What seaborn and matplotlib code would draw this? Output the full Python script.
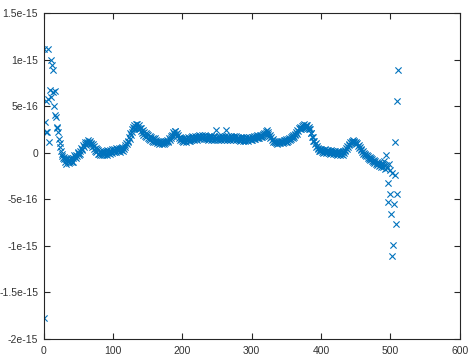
import numpy as np
import pandas as pd
import matplotlib
matplotlib.use("Agg")
import matplotlib.pyplot as plt
import seaborn as sns
from matplotlib.ticker import FuncFormatter

# values in units of 1e-17
head_vals = [-178, 111, 33, 22, 56, 22, 111, 58, 12, 67,
             60, 100, 94, 89, 65, 50, 66, 40, 38, 28,
             26, 22, 15, 10, 6, 2, -1, -4, -6, -7]

body_vals = [
    -5, -10, -7, -12, -6, -9, -11, -7, -10, -7,
    -6, -10, -6, -10, -3, -5, -6, -2, -4, 0,
    1, -2, 2, -1, 5, 4, 3, 8, 6, 9,
    11, 8, 12, 10, 14, 11, 10, 13, 9, 10,
    6, 9, 4, 7, 2, 5, 1, 4, -1, 3,
    -1, 2, -2, 1, -3, 2, 0, -2, 1, -1,
    2, -2, 3, 0, 2, -1, 3, 1, 4, 0,
    3, 1, 4, 2, 5, 1, 4, 2, 5, 3,
    1, 5, 3, 6, 2, 5, 4, 8, 6, 10,
    9, 13, 12, 17, 15, 21, 19, 25, 22, 28,
    25, 30, 27, 31, 28, 31, 27, 30, 25, 27,
    23, 26, 21, 24, 19, 22, 18, 21, 17, 20,
    16, 19, 15, 18, 14, 17, 13, 16, 12, 15,
    16, 12, 14, 10, 13, 11, 12, 9, 13, 10,
    12, 9, 11, 9, 13, 10, 13, 11, 14, 12,
    13, 16, 14, 18, 16, 19, 18, 22, 20, 23,
    23, 20, 21, 18, 19, 16, 17, 14, 16, 13,
    15, 12, 16, 13, 15, 12, 16, 14, 17, 13,
    16, 13, 17, 14, 18, 15, 17, 14, 18, 15,
    17, 14, 18, 16, 19, 15, 18, 16, 19, 16,
    18, 15, 19, 16, 18, 15, 17, 14, 18, 15,
    17, 14, 18, 15, 17, 14, 18, 15, 17, 24,
    15, 17, 14, 18, 15, 17, 14, 18, 15, 17,
    14, 18, 15, 24, 17, 14, 18, 15, 17, 14,
    18, 15, 17, 14, 18, 15, 17, 14, 18, 15,
    17, 14, 16, 13, 17, 14, 16, 13, 17, 14,
    16, 13, 17, 14, 16, 13, 17, 15, 16, 14,
    17, 14, 17, 15, 18, 15, 18, 16, 19, 16,
    18, 16, 19, 17, 19, 17, 20, 18, 21, 20,
    23, 21, 24, 20, 22, 18, 19, 16, 17, 14,
    15, 12, 13, 11, 12, 10, 12, 9, 13, 10,
    12, 10, 13, 11, 13, 10, 14, 12, 14, 11,
    15, 12, 15, 13, 16, 14, 17, 15, 18, 16,
    19, 17, 20, 19, 22, 20, 24, 23, 26, 25,
    28, 25, 29, 26, 30, 27, 31, 28, 30, 28,
    30, 27, 28, 25, 25, 21, 21, 17, 17, 13,
    13, 9, 10, 6, 7, 4, 5, 2, 4, 2,
    4, 1, 3, 0, 3, 1, 4, 0, 3, 1,
    3, 0, 2, -1, 3, 0, 2, -1, 2, 0,
    2, -1, 1, -2, 2, -1, 1, -2, 1, -1,
    1, -2, 2, 0, 3, 2, 5, 4, 7, 6,
    9, 8, 11, 10, 13, 11, 14, 11, 13, 10,
    12, 9, 10, 7, 8, 5, 6, 3, 4, 1,
    2, -1, 0, -3, -1, -4, -3, -6, -4, -7,
    -5, -8, -6, -9, -7, -10, -8, -11, -9, -12,
    -10, -13, -11, -14, -11, -13, -12, -15, -11,
]

tail_vals = [-12, -15, -9, -18, -13, -3, -16, -53, -33, -12,
             -44, -19, -66, -22, -111, -99, -55, -24, 12, -77,
             -44, 56, 89]

y_vals = np.array(head_vals + body_vals + tail_vals, dtype=float) * 1e-17
x_vals = np.arange(len(y_vals))
df = pd.DataFrame({"x": x_vals, "y": y_vals})

x_ticks = [0, 100, 200, 300, 400, 500, 600]
y_ticks = [-2e-15, -1.5e-15, -1e-15, -5e-16, 0, 5e-16, 1e-15, 1.5e-15]

sns.set_style("ticks")
plt.rcParams["font.family"] = ["Liberation Sans", "DejaVu Sans"]

axcol = "#262626"
fig = plt.figure(figsize=(4.74, 3.61), dpi=100)
ax = fig.add_axes([0.092, 0.061, 0.878, 0.903])

sns.scatterplot(data=df, x="x", y="y", marker="x", color="#0072BD",
                s=20, linewidth=0.8, ax=ax, legend=False)

ax.set_xlim(0, 600)
ax.set_ylim(-2e-15, 1.5e-15)
ax.set_xticks(x_ticks)
ax.set_yticks(y_ticks)
ax.yaxis.set_major_formatter(FuncFormatter(lambda v, p: "%g" % v if abs(v) > 1e-20 else "0"))
ax.xaxis.set_major_formatter(FuncFormatter(lambda v, p: "%g" % v))
ax.set_xlabel("")
ax.set_ylabel("")
for s in ax.spines.values():
    s.set_visible(True)
    s.set_color(axcol)
    s.set_linewidth(0.8)
ax.tick_params(direction="in", length=4, width=0.8, colors=axcol,
               labelsize=7.5, top=True, right=True)
ax.tick_params(axis="x", pad=5)
ax.tick_params(axis="y", pad=4)
ax.tick_params(axis="both", labelcolor="#333333")

fig.savefig("out.png", dpi=100)
